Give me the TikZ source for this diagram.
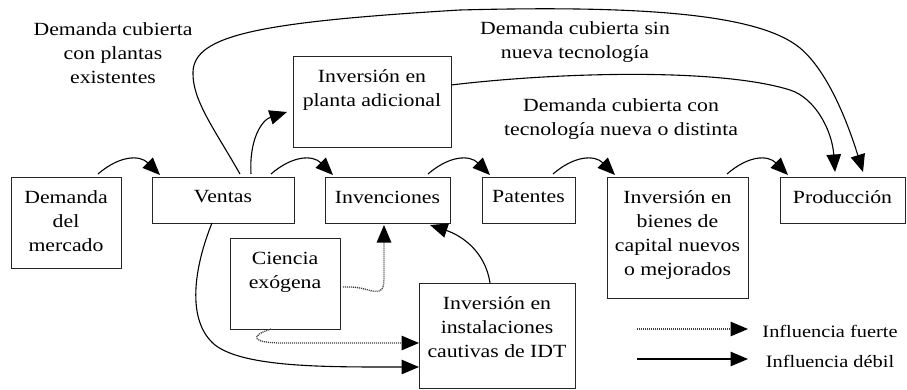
\documentclass[tikz,border=0pt]{standalone}
\usepackage{fontspec}
\setmainfont[FakeStretch=1.17]{Liberation Serif}
\usetikzlibrary{arrows.meta,calc}
\begin{document}
\begin{tikzpicture}[x=1pt,y=-1pt,
  box/.style={draw=black!85, line width=0.9pt, inner sep=0pt, outer sep=0pt, rectangle},
  txt/.style={font=\fontsize{18.6}{24}\selectfont, align=center, inner sep=0pt, anchor=north},
  legtxt/.style={font=\fontsize{17.4}{24}\selectfont, inner sep=0pt, anchor=base},
  tip/.style={-{Triangle[length=17.5pt,width=14.5pt,color=black]}},
  weak/.style={tip, line width=1.1pt, draw=black},
  strong/.style={tip, line width=1.3pt, draw=black!75, dash pattern=on 1.1pt off 0.9pt}
]
\useasboundingbox (0,0) rectangle (907,390);

% boxes
\node[box, minimum width=110pt, minimum height=91pt]  (dem) at (66,222.5) {};
\node[box, minimum width=142pt, minimum height=46pt]  (ven) at (223,200) {};
\node[box, minimum width=125pt, minimum height=46pt]  (inv) at (387.5,200) {};
\node[box, minimum width=93pt,  minimum height=46pt]  (pat) at (528.5,200) {};
\node[box, minimum width=141pt, minimum height=121pt] (bie) at (677.5,237.5) {};
\node[box, minimum width=125pt, minimum height=46pt]  (pro) at (842.5,200) {};
\node[box, minimum width=158pt, minimum height=91pt]  (pla) at (372,101.5) {};
\node[box, minimum width=110pt, minimum height=91pt]  (cie) at (285,283.5) {};
\node[box, minimum width=156pt, minimum height=105pt] (idt) at (497,335.5) {};

% box texts
\node[txt] (demt) at ($(dem.north)+(0,13.5)$) {Demanda\\del\\mercado};
\node[txt] (vent) at ($(ven.north)+(0,13.5)$) {Ventas};
\node[txt] (invt) at ($(inv.north)+(0,13.5)$) {Invenciones};
\node[txt] (patt) at ($(pat.north)+(0,13.5)$) {Patentes};
\node[txt] (biet) at ($(bie.north)+(0,13.5)$) {Inversión en\\bienes de\\capital nuevos\\o mejorados};
\node[txt] (prot) at ($(pro.north)+(0,13.5)$) {Producción};
\node[txt] (plat) at ($(pla.north)+(0,13.5)$) {Inversión en\\planta adicional};
\node[txt] (ciet) at ($(cie.north)+(0,13.5)$) {Ciencia\\exógena};
\node[txt] (idtt) at ($(idt.north)+(0,13.5)$) {Inversión en\\instalaciones\\cautivas de IDT};

% free labels
\node[txt] (lab1) at (113,22.5) {Demanda cubierta\\con plantas\\existentes};
\node[txt] (lab2) at (575,21.5) {Demanda cubierta sin\\nueva tecnología};
\node[txt] (lab3) at (621,98.5) {Demanda cubierta con\\tecnología nueva o distinta};

% hop arrows
\draw[weak] ($(dem.north)+(32,-3)$) .. controls +(22,-19) and +(-20,-20) .. ($(ven.north west)+(8,-2)$);
\draw[weak] ($(ven.north east)+(-23,-3)$) .. controls +(22,-19) and +(-20,-20) .. ($(inv.north west)+(8,-2)$);
\draw[weak] ($(inv.north east)+(-22,-3)$) .. controls +(22,-19) and +(-20,-20) .. ($(pat.north west)+(8,-2)$);
\draw[weak] ($(pat.north east)+(-22,-3)$) .. controls +(22,-19) and +(-20,-20) .. ($(bie.north west)+(8,-2)$);
\draw[weak] ($(bie.north east)+(-21,-3)$) .. controls +(22,-19) and +(-20,-20) .. ($(pro.north west)+(8,-2)$);

% Ventas -> planta adicional
\draw[weak] ($(ven.north)+(28,-3)$) .. controls +(-2,-35) and +(-25,8) .. ($(pla.west)+(-6,10.5)$);

% Ventas -> Produccion (top curve)
\draw[weak] ($(ven.north)+(17,-3)$) .. controls (215,130) and (192,100) .. (193,72)
  .. controls (194,35) and (260,22) .. (460,10)
  .. controls (650,5) and (760,15) .. (800,48)
  .. controls (830,73) and (850,130) .. ($(pro.north)+(20.5,-5)$);

% planta adicional -> Produccion
\draw[weak] ($(pla.east)+(0,-16.5)$) .. controls (560,72) and (720,68) .. (790,90)
  .. controls (815,98) and (832,130) .. ($(pro.north)+(-7.5,-5)$);

% Ventas -> IDT
\draw[weak] ($(ven.south)+(-11,0)$) .. controls (195,265) and (185,320) .. (215,345)
  .. controls (245,368) and (330,367) .. ($(idt.west)+(0,31.5)$);

% Ciencia -> IDT (dotted)
\draw[strong] ($(cie.south)+(-14,0)$) .. controls +(-22,7) and (252,343) .. (282,343) -- ($(idt.west)+(0,7.5)$);

% Ciencia -> Invenciones (dotted)
\draw[strong] ($(cie.east)+(3,3.5)$) .. controls (365,286) and (370,293) .. (379,291)
  .. controls (384,290) and (384,284) .. (384,270) -- ($(inv.south)+(-3.5,2)$);

% IDT -> Invenciones
\draw[weak] ($(idt.north)+(-7,0)$) .. controls +(-5,-33) and +(30,10) .. ($(inv.south east)+(-20,2)$);

% legend
\coordinate (l1a) at (637,329); \coordinate (l1b) at (748,329);
\coordinate (l2a) at (637,359); \coordinate (l2b) at (748,359);
\draw[strong] (l1a) -- (l1b);
\draw[weak] (l2a) -- (l2b);
\node[legtxt] (legf) at (830,337) {Influencia fuerte};
\node[legtxt] (legd) at (830,367) {Influencia débil};
\end{tikzpicture}
\end{document}
